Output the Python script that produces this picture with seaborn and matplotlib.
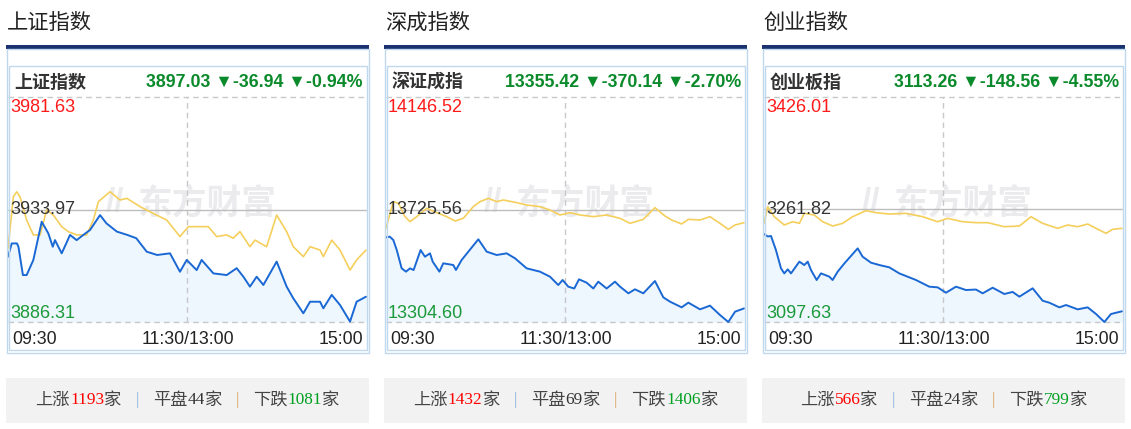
import matplotlib
matplotlib.use("Agg")
import matplotlib.pyplot as plt
import seaborn as sns
from matplotlib.patches import Rectangle

# ---------------- data ----------------
panel_titles = ["上证指数", "深成指数", "创业指数"]
index_names = ["上证指数", "深证成指", "创业板指"]
last_prices = [3897.03, 13355.42, 3113.26]
changes = [-36.94, -370.14, -148.56]
change_pcts = [-0.94, -2.70, -4.55]
scale_highs = [3981.63, 14146.52, 3426.01]
prev_closes = [3933.97, 13725.56, 3261.82]
scale_lows = [3886.31, 13304.60, 3097.63]
up_counts = [1193, 1432, 566]
flat_counts = [44, 69, 24]
down_counts = [1081, 1406, 799]
time_labels = ["09:30", "11:30/13:00", "15:00"]

# minutes since open (0..240) and index values
sh_price_t = [0, 2.5, 6, 7, 10, 12.5, 17, 22.6, 27, 30, 31.5, 36, 41.6, 46, 50.5, 55, 61.7,
              66, 73, 80, 86, 93, 100, 108.6, 115.3, 119.8, 126.5, 129.8, 137.7, 146.6,
              153.3, 157.8, 162.2, 166.7, 171.2, 180.1, 186.8, 191.3, 198, 202.5, 209.2,
              211.4, 217, 222.6, 229.3, 233.7, 240]
sh_price_v = [3914.0, 3919.6, 3919.6, 3918.2, 3906.2, 3906.2, 3912.6, 3928.8, 3923.9, 3918.2,
              3921.0, 3915.4, 3923.2, 3921.0, 3923.2, 3925.3, 3931.6, 3928.1, 3924.6, 3923.2,
              3921.8, 3916.1, 3914.7, 3915.4, 3907.6, 3912.6, 3908.3, 3912.6, 3906.9, 3906.2,
              3909.1, 3905.5, 3901.3, 3905.5, 3902.0, 3911.9, 3901.3, 3896.3, 3890.0, 3894.9,
              3894.9, 3892.1, 3897.8, 3893.5, 3886.5, 3894.9, 3897.03]
sh_avg_t = [0, 3.6, 5.8, 8, 12.5, 17, 21.5, 25.9, 30.4, 36, 40.4, 46, 52.7, 57.2, 60.6, 68.4,
            75.1, 79.6, 88.5, 97.4, 106.4, 115.3, 120.9, 128.7, 134.3, 139.9, 146.6, 151,
            155.5, 162.2, 165.6, 173.4, 180.1, 186.8, 191.3, 198, 202.5, 209.2, 211.4, 217,
            222.6, 229.3, 233.7, 240]
sh_avg_v = [3917.5, 3939.4, 3941.5, 3939.4, 3929.5, 3923.2, 3923.2, 3933.8, 3931.6, 3926.7,
            3924.6, 3923.2, 3923.2, 3929.5, 3937.3, 3941.5, 3938.0, 3938.7, 3935.2, 3932.3,
            3929.5, 3922.5, 3926.7, 3926.7, 3926.7, 3922.5, 3923.2, 3921.8, 3924.6, 3918.2,
            3921.0, 3918.2, 3931.6, 3924.6, 3918.2, 3914.0, 3918.2, 3916.8, 3914.0, 3921.0,
            3916.8, 3908.3, 3912.6, 3916.8]

sz_price_t = [0, 2.5, 4.9, 7.2, 10.5, 13.4, 16.1, 18.5, 23.2, 26.1, 29.5, 31.3, 35.8, 38.4,
              45.1, 46.9, 50.7, 55.2, 61.9, 67.5, 74.2, 80.9, 86.5, 94.3, 103.2, 109.9, 115.5,
              118.4, 122.2, 126.2, 129.4, 134.5, 139, 142.3, 147.9, 153.5, 156.9, 162.5, 166.9,
              172.5, 180.3, 185.9, 190.4, 198.2, 202.7, 210.5, 217.2, 223.9, 229.5, 234, 240]
sz_price_v = [13621.4, 13624.0, 13611.4, 13574.0, 13505.4, 13493.0, 13505.4, 13499.0, 13574.0,
              13549.0, 13561.5, 13530.4, 13493.0, 13524.2, 13517.9, 13499.2, 13536.6, 13567.8,
              13614.0, 13567.8, 13555.3, 13561.5, 13542.9, 13505.4, 13493.0, 13474.3, 13443.0,
              13461.8, 13436.8, 13430.0, 13464.3, 13451.8, 13430.0, 13455.5, 13430.0, 13455.5,
              13436.8, 13411.9, 13426.9, 13411.9, 13458.0, 13396.9, 13380.7, 13359.5, 13377.0,
              13352.0, 13365.7, 13330.8, 13304.6, 13343.3, 13355.42]
sz_avg_t = [0, 4.9, 8.3, 12.7, 16.1, 20.6, 27.3, 34, 40.7, 46.3, 51.8, 58.5, 63, 68.6, 74.2,
            78.7, 87.6, 94.3, 103.2, 109.9, 116.6, 123.4, 130.1, 139, 147.9, 156.9, 163.6,
            172.5, 180.3, 187, 191.5, 198.2, 202.7, 210.5, 217.2, 223.9, 229.5, 234, 240]
sz_avg_v = [13655.1, 13754.9, 13748.7, 13698.8, 13680.0, 13698.8, 13730.0, 13713.7, 13698.8,
            13682.5, 13692.5, 13736.2, 13754.9, 13767.4, 13754.9, 13761.1, 13751.2, 13742.4,
            13736.2, 13723.7, 13705.0, 13713.7, 13705.0, 13698.8, 13705.0, 13692.5, 13673.8,
            13688.8, 13732.4, 13701.3, 13686.3, 13671.3, 13688.8, 13686.3, 13698.8, 13673.8,
            13651.4, 13667.6, 13676.3]

cy_price_t = [0, 2.5, 4.7, 8, 11.4, 13.6, 15.9, 18.1, 23.7, 27, 29.3, 31.5, 35.3, 38.2, 43.8,
              46, 49.4, 53.9, 62.8, 66.1, 71.7, 77.3, 84, 90.7, 101.9, 110.8, 116.4, 122,
              128.7, 135.4, 142.1, 146.6, 153.3, 161.1, 166.7, 171.2, 180.1, 186.8, 191.3, 198,
              202.5, 210.3, 217, 222.6, 228.2, 232.6, 240]
cy_price_v = [3226.0, 3222.5, 3223.1, 3202.7, 3175.9, 3168.6, 3174.5, 3168.6, 3185.7, 3180.8,
              3185.7, 3173.5, 3158.9, 3168.6, 3163.8, 3158.9, 3171.1, 3183.2, 3205.1, 3193.0,
              3184.2, 3180.8, 3177.4, 3168.6, 3158.9, 3149.2, 3148.2, 3140.4, 3149.2, 3144.3,
              3145.0, 3139.5, 3147.7, 3138.5, 3141.5, 3134.6, 3146.8, 3128.7, 3125.8, 3119.0,
              3122.4, 3116.1, 3119.0, 3109.3, 3097.63, 3109.3, 3113.26]
cy_avg_t = [0, 2.5, 6.9, 13.6, 19.2, 23.7, 27, 33.7, 39.3, 46, 52.7, 59.4, 68.4, 75.1, 84,
            95.2, 106.4, 116.4, 123.1, 133.2, 142.1, 150, 161.1, 171.2, 179, 186.8, 196.9,
            203.6, 210.3, 217, 222.6, 229.3, 233.7, 240]
cy_avg_v = [3241.6, 3265.9, 3251.3, 3239.2, 3244.0, 3241.6, 3256.2, 3253.8, 3244.0, 3237.7,
            3241.6, 3251.3, 3260.1, 3257.2, 3255.2, 3256.2, 3251.3, 3244.0, 3248.9, 3244.0,
            3242.6, 3242.6, 3236.7, 3237.7, 3251.3, 3241.6, 3234.3, 3239.2, 3236.7, 3240.6,
            3234.3, 3227.0, 3232.9, 3234.3]

price_t = [sh_price_t, sz_price_t, cy_price_t]
price_v = [sh_price_v, sz_price_v, cy_price_v]
avg_t = [sh_avg_t, sz_avg_t, cy_avg_t]
avg_v = [sh_avg_v, sz_avg_v, cy_avg_v]

# ---------------- style ----------------
sns.set_theme(style="white")
plt.rcParams["font.family"] = ["Liberation Sans", "Noto Sans CJK SC", "DejaVu Sans"]
CJK = ["Noto Sans CJK SC", "DejaVu Sans"]
NUM = ["Liberation Sans", "DejaVu Sans"]
SERIF = ["Liberation Serif", "Noto Sans CJK SC"]

W, H = 1131, 429
fig = plt.figure(figsize=(W / 100, H / 100), dpi=100)
fig.patch.set_facecolor("white")
bg = fig.add_axes([0, 0, 1, 1])
bg.set_xlim(0, W)
bg.set_ylim(H, 0)
bg.axis("off")
bg.set_zorder(10)

BOX = "#c0d8ee"
GREEN = "#0a8a2a"
LGREEN = "#1b9a3a"
RED = "#ff1a1a"
DASH = "#c8c8c8"
renderer = fig.canvas.get_renderer()

for k in range(3):
    ox = 378 * k
    # section title and bar
    bg.text(ox + 7, 23, panel_titles[k], fontsize=15.3, color="#222", family=CJK,
            ha="left", va="center")
    bg.add_patch(Rectangle((ox + 6, 45), 363, 4, color="#1b3270", lw=0))
    bg.add_patch(Rectangle((ox + 6.5, 49), 362, 304, fill=False, ec=BOX, lw=1))
    bg.add_patch(Rectangle((ox + 8.5, 66), 358, 284, fill=False, ec=BOX, lw=1))
    # header row
    bg.text(ox + 14, 82, index_names[k], fontsize=13, fontweight="bold", color="#333",
            family=CJK, ha="left", va="center")
    head = f"{last_prices[k]:.2f} ▼{changes[k]:.2f} ▼{change_pcts[k]:.2f}%"
    bg.text(ox + 363, 82, head, fontsize=12.8, fontweight="bold", color=GREEN,
            family=NUM, ha="right", va="center")

    # chart axes
    ax = fig.add_axes([(ox + 8) / W, (H - 322) / H, 358 / W, 225 / H])
    ax.set_xlim(0, 240)
    ax.set_ylim(scale_lows[k], scale_highs[k])
    ax.axis("off")
    ax.text(0.556, 0.53, "东方财富", transform=ax.transAxes, fontsize=25,
            fontweight="bold", color="#ebebee", family=CJK, ha="center", va="center",
            zorder=0, style="italic")
    ax.text(0.30, 0.53, "//", transform=ax.transAxes, fontsize=24,
            fontweight="bold", color="#ebebee", family=NUM, ha="center", va="center",
            zorder=0)
    ax.fill_between(price_t[k], price_v[k], scale_lows[k], color="#eef6fe", lw=0, zorder=1)
    ax.axhline(scale_highs[k], color=DASH, lw=1, ls=(0, (4, 3)), zorder=2, clip_on=False)
    ax.axhline(scale_lows[k], color=DASH, lw=1, ls=(0, (4, 3)), zorder=2, clip_on=False)
    ax.axvline(120, color=DASH, lw=1, ls=(0, (4, 3)), zorder=2)
    ax.axhline(prev_closes[k], color="#bdbdbd", lw=1, zorder=2)
    sns.lineplot(x=avg_t[k], y=avg_v[k], ax=ax, color="#f5cf5c", lw=1.2, zorder=3)
    sns.lineplot(x=price_t[k], y=price_v[k], ax=ax, color="#1a68d4", lw=1.4, zorder=4)
    for ln in ax.lines:
        ln.set_clip_on(False)

    # scale labels
    bg.text(ox + 10, 108, f"{scale_highs[k]:.2f}", fontsize=13, color=RED, family=NUM,
            ha="left", va="center")
    bg.text(ox + 10, 210, f"{prev_closes[k]:.2f}", fontsize=13, color="#333", family=NUM,
            ha="left", va="center")
    bg.text(ox + 10, 313, f"{scale_lows[k]:.2f}", fontsize=13, color=LGREEN, family=NUM,
            ha="left", va="center")
    bg.text(ox + 12, 340, time_labels[0], fontsize=12.8, color="#222", family=NUM,
            ha="left", va="center")
    bg.text(ox + 188, 340, time_labels[1], fontsize=12.8, color="#222", family=NUM,
            ha="center", va="center")
    bg.text(ox + 363, 340, time_labels[2], fontsize=12.8, color="#222", family=NUM,
            ha="right", va="center")

    # bottom breadth box
    bg.add_patch(Rectangle((ox + 6, 378), 363, 45, color="#f2f2f2", lw=0))
    segs = [("上涨", "#444", CJK), (str(up_counts[k]), "#ff0000", SERIF), ("家", "#444", CJK),
            ("|", "#8fb4da", SERIF),
            ("平盘", "#444", CJK), (str(flat_counts[k]), "#333", SERIF), ("家", "#444", CJK),
            ("|", "#d9a86a", SERIF),
            ("下跌", "#444", CJK), (str(down_counts[k]), "#00a020", SERIF), ("家", "#444", CJK)]
    objs = []
    widths = []
    for s, c, f in segs:
        t = bg.text(0, 400, s, fontsize=12.4, color=c, family=f, ha="left", va="center")
        objs.append(t)
        widths.append(t.get_window_extent(renderer).width)
    pads = [0, 0, 0, 14, 14, 0, 0, 14, 14, 0, 0]
    total = sum(widths) + sum(pads)
    x = ox + 187.5 - total / 2
    for t, w, p in zip(objs, widths, pads):
        x += p
        t.set_x(x)
        x += w

fig.savefig("out.png", dpi=100, facecolor="white")
